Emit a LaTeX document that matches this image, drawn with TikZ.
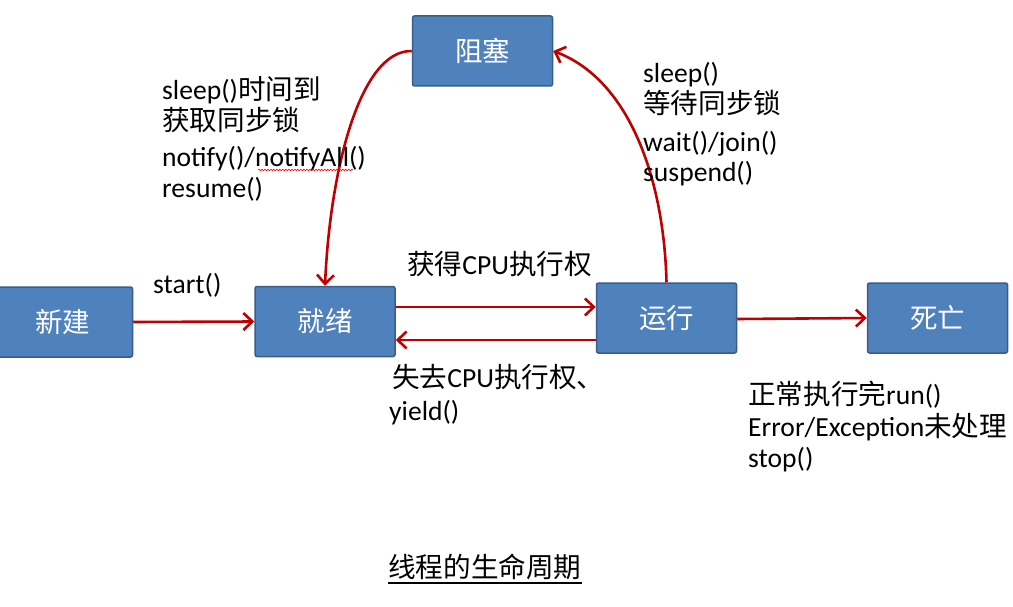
\documentclass[tikz,border=0pt]{standalone}
\usepackage{fontspec}
\setmainfont{Carlito}
\newfontfamily\cjk{Noto Sans CJK SC}
\usetikzlibrary{arrows.meta,decorations.pathmorphing}
\definecolor{boxfill}{HTML}{4F81BD}
\definecolor{boxline}{HTML}{385D8A}
\definecolor{arr}{HTML}{C00000}
\begin{document}
\begin{tikzpicture}[x=1pt,y=-1pt,
  state/.style={rectangle, rounded corners=2pt, fill=boxfill, draw=boxline, line width=1.5pt,
    minimum width=140pt, minimum height=70pt, inner sep=0pt, text=white,
    font=\cjk\fontsize{27.5}{27.5}\selectfont},
  lbl/.style={anchor=base west, inner sep=0pt, font=\fontsize{27.6}{30}\selectfont},
  flow/.style={draw=arr, line width=2.6pt,
    -{Straight Barb[length=9pt,width=17pt,line width=2.6pt]}}]
\useasboundingbox (0,0) rectangle (1013,607);
\fill[white] (0,0) rectangle (1013,607);

% states
\node[state] (new)   at (62.5,322)  {新建};
\node[state] (ready) at (325,321.5) {就绪};
\node[state] (run)   at (666.5,318) {运行};
\node[state] (dead)  at (937.5,318) {死亡};
\node[state] (block) at (482.5,51)  {阻塞};

% connectors
\draw[flow] (new.east) -- (ready.west);
\draw[flow] (ready.east |- 0,307) -- (run.west |- 0,307);
\draw[flow] (run.west |- 0,340) -- (ready.east |- 0,340);
\draw[flow] ([yshift=-1pt]run.east) -- (dead.west);
\draw[flow] (block.west) .. controls (360,50) and (330,170) .. (ready.north);
\draw[flow] (run.north) .. controls (664,180) and (630,80) .. (block.east);

% labels
\node[lbl] (a1) at (162,100) {sleep(){\cjk 时间到}};
\node[lbl] (a2) at (162,131) {\cjk 获取同步锁};
\node[lbl] (a3) at (162,167) {notify()/notifyAll()};
\node[lbl] (a4) at (162,198) {resume()};
\draw[red, line width=0.6pt, decorate, decoration={snake, amplitude=0.8pt, segment length=3pt}]
  (258,170) -- (353,170);

\node[lbl] (b1) at (643,83)  {sleep()};
\node[lbl] (b2) at (643,114) {\cjk 等待同步锁};
\node[lbl] (b3) at (643,152) {wait()/join()};
\node[lbl] (b4) at (643,182) {suspend()};

\node[lbl] (c1) at (153,293) {start()};
\node[lbl] (d1) at (407,274) {{\cjk 获得}CPU{\cjk 执行权}};
\node[lbl] (e1) at (392,387) {{\cjk 失去}CPU{\cjk 执行权、}};
\node[lbl] (e2) at (389,420) {yield()};

\node[lbl] (f1) at (748,404) {{\cjk 正常执行完}run()};
\node[lbl] (f2) at (748,436) {Error/Exception{\cjk 未处理}};
\node[lbl] (f3) at (748,467) {stop()};

\node[lbl] (title) at (388,577) {\cjk 线程的生命周期};
\draw[line width=1.3pt] ([yshift=-6pt]title.base west) -- ([yshift=-6pt]title.base east);
\end{tikzpicture}
\end{document}
